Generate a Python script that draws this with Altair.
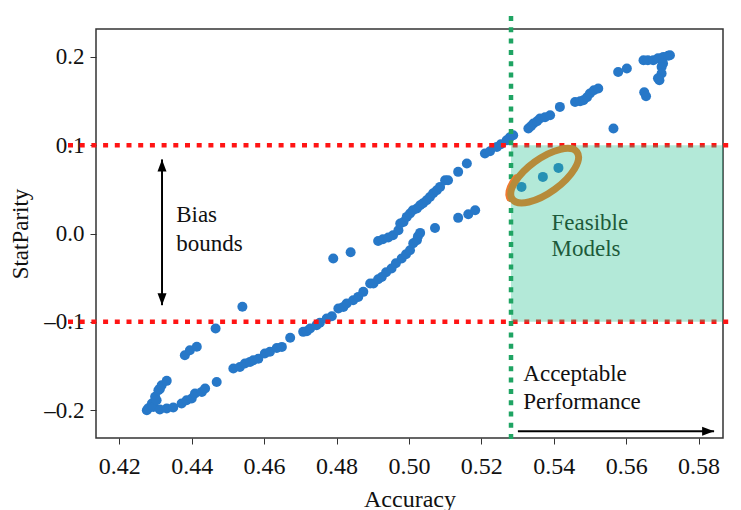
import altair as alt
import pandas as pd

# ---- data ----
accuracy = [
    # lower-left "V" cluster
    0.4276, 0.4280, 0.4290, 0.4294, 0.4299, 0.4303, 0.4308, 0.4312, 0.4317, 0.4331,
    0.4312, 0.4331, 0.4349, 0.4372, 0.4386, 0.4400, 0.4409, 0.4428, 0.4437, 0.4469,
    # lower long branch
    0.4515, 0.4533, 0.4547, 0.4561, 0.4570, 0.4584, 0.4602, 0.4616, 0.4635, 0.4649,
    0.4672, 0.4708, 0.4718, 0.4727, 0.4745, 0.4754, 0.4773, 0.4787, 0.4805, 0.4819,
    0.4828, 0.4846, 0.4860, 0.4874, 0.4893, 0.4902, 0.4915, 0.4925, 0.4937, 0.4952,
    0.4964, 0.4980, 0.4992, 0.5003, 0.5012, 0.5022, 0.5025, 0.5031, 0.5072, 0.5136,
    0.5164, 0.5183,
    # isolated points
    0.4381, 0.4395, 0.4414, 0.4466, 0.4540, 0.4791, 0.4839,
    # upper branch
    0.4915, 0.4928, 0.4943, 0.4956, 0.4971, 0.4976, 0.4985, 0.4994, 0.5003, 0.5011,
    0.5022, 0.5031, 0.5039, 0.5049, 0.5058, 0.5067, 0.5077, 0.5086, 0.5100, 0.5108,
    0.5136, 0.5160, 0.5210, 0.5224, 0.5243, 0.5254, 0.5270, 0.5279, 0.5288, 0.5330,
    0.5337, 0.5344, 0.5354, 0.5362, 0.5376, 0.5390, 0.5417, 0.5459, 0.5473, 0.5482,
    0.5492, 0.5500, 0.5511, 0.5523, 0.5578, 0.5602, 0.5648, 0.5660, 0.5675, 0.5688,
    0.5703, 0.5716, 0.5721, 0.5702, 0.5698, 0.5698, 0.5692, 0.5688,
    0.5650, 0.5655, 0.5565,
    # feasible models
    0.5311, 0.5370, 0.5413,
]
stat_parity = [
    -0.2001, -0.1980, -0.1925, -0.1964, -0.1850, -0.1888, -0.1775, -0.1760, -0.1718, -0.1669,
    -0.1993, -0.1982, -0.1971, -0.1925, -0.1888, -0.1869, -0.1812, -0.1794, -0.1755, -0.1681,
    -0.1529, -0.1511, -0.1472, -0.1454, -0.1435, -0.1418, -0.1359, -0.1339, -0.1296, -0.1284,
    -0.1180, -0.1114, -0.1106, -0.1076, -0.1038, -0.1010, -0.0963, -0.0937, -0.0849, -0.0831,
    -0.0793, -0.0755, -0.0718, -0.0661, -0.0566, -0.0566, -0.0518, -0.0492, -0.0438, -0.0396,
    -0.0336, -0.0283, -0.0234, -0.0189, -0.0110, -0.0076, -0.0031, 0.0007, 0.0063, 0.0177,
    0.0219, 0.0264,
    -0.1378, -0.1322, -0.1282, -0.1076, -0.0829, -0.0283, -0.0212,
    -0.0084, -0.0065, -0.0045, -0.0019, 0.0037, 0.0113, 0.0131, 0.0188, 0.0226, 0.0264,
    0.0283, 0.0320, 0.0343, 0.0377, 0.0414, 0.0456, 0.0490, 0.0528, 0.0604, 0.0604,
    0.0698, 0.0793, 0.0906, 0.0932, 0.0981, 0.1011, 0.1057, 0.1091, 0.1113, 0.1189,
    0.1215, 0.1246, 0.1272, 0.1302, 0.1317, 0.1340, 0.1434, 0.1490, 0.1498, 0.1510,
    0.1544, 0.1585, 0.1623, 0.1642, 0.1830, 0.1869, 0.1963, 0.1963, 0.1963, 0.1985,
    0.2000, 0.2014, 0.2019, 0.1925, 0.1887, 0.1812, 0.1736, 0.1759,
    0.1600, 0.1555, 0.1189,
    0.0528, 0.0641, 0.0743,
]

bias_bounds = [-0.1, 0.1]
acc_threshold = [0.5282]
x_ticks = [0.42, 0.44, 0.46, 0.48, 0.50, 0.52, 0.54, 0.56, 0.58]
y_ticks = [-0.2, -0.1, 0.0, 0.1, 0.2]
x_domain = [0.41356, 0.58676]
y_domain = [-0.2316, 0.2316]

label_text = ["Bias", "bounds", "Feasible", "Models", "Acceptable", "Performance"]
label_acc = [0.4357, 0.4357, 0.5394, 0.5394, 0.5316, 0.5316]
label_sp = [0.0131, -0.0197, 0.0045, -0.0257, -0.1673, -0.1982]
label_color = ["#111111", "#111111", "#1d5a3a", "#1d5a3a", "#111111", "#111111"]

FONT = "Liberation Serif"

points = pd.DataFrame({"acc": accuracy, "sp": stat_parity})

xscale = alt.Scale(domain=x_domain, nice=False, zero=False)
yscale = alt.Scale(domain=y_domain, nice=False, zero=False)

xaxis = alt.Axis(values=x_ticks, format=".2f", grid=False, domain=False, tickSize=6,
                 tickColor="#333333", tickWidth=1, labelFontSize=24, labelFont=FONT,
                 labelColor="#111111", labelPadding=29, labelBaseline="alphabetic",
                 labelOverlap=False, labelFlush=False,
                 titleFontSize=24, titleFont=FONT, titleFontWeight="normal",
                 titleColor="#111111", titleBaseline="alphabetic", titleY=68)
yaxis = alt.Axis(values=y_ticks, grid=False, domain=False, tickSize=6,
                 tickColor="#333333", tickWidth=1, labelFontSize=23, labelFont=FONT,
                 labelColor="#111111", labelPadding=6, labelBaseline="middle",
                 labelOverlap=False, labelFlush=False,
                 labelExpr="datum.value < 0 ? '\u2013' + format(-datum.value, '.1f') : format(datum.value, '.1f')",
                 titleFontSize=23, titleFont=FONT, titleFontWeight="normal",
                 titleColor="#111111", titleAngle=270, titleBaseline="alphabetic",
                 titleAlign="center", titleX=-69, titleY=204.5)

X = alt.X("acc:Q", scale=xscale, axis=xaxis, title="Accuracy")
Y = alt.Y("sp:Q", scale=yscale, axis=yaxis, title="StatParity")

pts = alt.Chart(points).mark_circle(size=100, color="#2778c8", opacity=1).encode(x=X, y=Y)

red = alt.Chart(pd.DataFrame({"sp": bias_bounds})).mark_rule(
    color="#ff1414", strokeWidth=4.5, strokeDash=[5, 6.7]
).encode(y="sp:Q", x=alt.value(-28), x2=alt.value(650))

region = alt.Chart(pd.DataFrame({
    "acc": acc_threshold, "acc2": [x_domain[1]], "sp": [bias_bounds[0]], "sp2": [bias_bounds[1]]
})).mark_rect(color="#26c08f", opacity=0.35).encode(x="acc:Q", x2="acc2:Q", y="sp:Q", y2="sp2:Q")

green = alt.Chart(pd.DataFrame({"acc": acc_threshold})).mark_rule(
    color="#1fa463", strokeWidth=4.5, strokeDash=[5, 6.3]
).encode(x="acc:Q", y=alt.value(-13), y2=alt.value(414))

ell_center = pd.DataFrame({"acc": [0.5375], "sp": [0.0655]})
ellipse_path = ("M -1 0 C -1 -0.2347 -0.5523 -0.425 0 -0.425 C 0.5523 -0.425 1 -0.2347 1 0 "
                "C 1 0.2347 0.5523 0.425 0 0.425 C -0.5523 0.425 -1 0.2347 -1 0 Z")
arc_path = ("M -0.996 -0.037 L -0.966 -0.110 L -0.906 -0.180 L -0.819 -0.244 "
            "L -0.707 -0.301 L -0.574 -0.348")
orange = alt.Chart(ell_center).mark_point(
    shape=arc_path, size=6400, angle=324, filled=False, stroke="#f07a30",
    strokeWidth=7, opacity=1, xOffset=-2, strokeCap="round"
).encode(x="acc:Q", y="sp:Q")
ellipse = alt.Chart(ell_center).mark_point(
    shape=ellipse_path, size=6400, angle=324, filled=False, stroke="#b68b3a",
    strokeWidth=7, opacity=1
).encode(x="acc:Q", y="sp:Q")

arrows = pd.DataFrame({"acc": [0.4318, 0.5301], "sp": [-0.0812, -0.2239],
                       "acc2": [0.4318, 0.5843], "sp2": [0.0839, -0.2239]})
shafts = alt.Chart(arrows).mark_rule(color="#000000", strokeWidth=2).encode(
    x="acc:Q", y="sp:Q", x2="acc2:Q", y2="sp2:Q")

head_up = alt.Chart(pd.DataFrame({"acc": [0.4318], "sp": [0.0839]})).mark_point(
    shape="M 0 0 L -0.45 1.2 L 0.45 1.2 Z", size=400, filled=True, color="#000000", opacity=1
).encode(x="acc:Q", y="sp:Q")
head_down = alt.Chart(pd.DataFrame({"acc": [0.4318], "sp": [-0.0812]})).mark_point(
    shape="M 0 0 L -0.45 -1.2 L 0.45 -1.2 Z", size=400, filled=True, color="#000000", opacity=1
).encode(x="acc:Q", y="sp:Q")
head_right = alt.Chart(pd.DataFrame({"acc": [0.5843], "sp": [-0.2239]})).mark_point(
    shape="M 0 0 L -1.2 -0.45 L -1.2 0.45 Z", size=400, filled=True, color="#000000", opacity=1
).encode(x="acc:Q", y="sp:Q")

labels = alt.Chart(pd.DataFrame({"acc": label_acc, "sp": label_sp, "label": label_text,
                                 "c": label_color})).mark_text(
    align="left", baseline="alphabetic", fontSize=23, font=FONT
).encode(x="acc:Q", y="sp:Q", text="label:N", color=alt.Color("c:N", scale=None))

chart = alt.layer(
    pts, red, region, green, orange, ellipse, shafts, head_up, head_down, head_right, labels
).properties(
    width=627, height=409,
    padding={"left": 88, "top": 21, "right": 10, "bottom": 72},
    autosize=alt.AutoSizeParams(type="none"),
).configure_view(
    stroke="#333333", strokeWidth=1.5
)

chart.save("out.html", embed_options={"renderer": "svg", "actions": False})
